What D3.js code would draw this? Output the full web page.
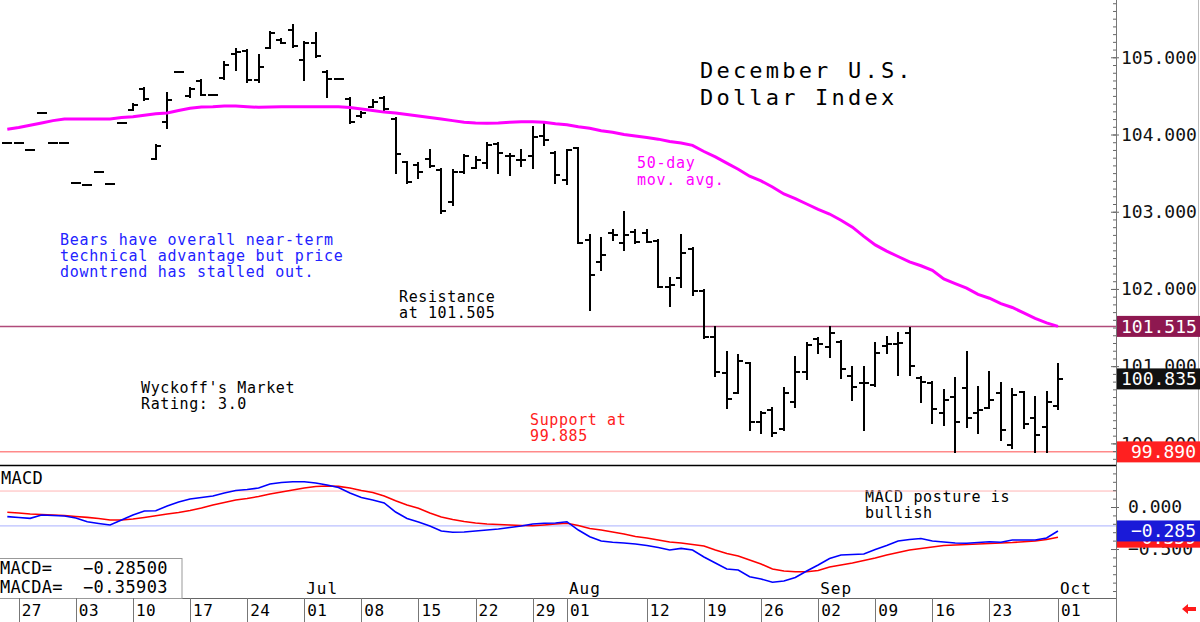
<!DOCTYPE html>
<html>
<head>
<meta charset="utf-8">
<style>
  body { margin: 0; background: #fff; }
  svg text { font-family: "DejaVu Sans Mono", monospace; }
</style>
<script src="https://cdn.jsdelivr.net/npm/d3@7"></script>
</head>
<body>
<div id="container"></div>
<script>
// trading days shown, May 24 .. Oct 1 2024
const dates = d3.timeDay.range(new Date(2024, 4, 24), new Date(2024, 9, 2))
  .filter(d => d.getDay() % 6 !== 0)
  .map(d3.timeFormat('%Y-%m-%d'));

// December U.S. Dollar Index futures, daily bars
const opens = [103.894,103.894,103.799,104.282,103.894,103.894,103.372,103.346,103.514,103.359,104.149,
  104.317,104.589,103.683,104.162,104.810,104.499,104.697,104.512,104.732,105.043,105.082,104.706,105.120,
  105.224,105.354,104.965,105.185,104.813,104.715,104.460,104.240,104.360,104.473,104.207,103.644,103.605,
  103.683,103.540,103.130,103.518,103.566,103.631,103.877,103.721,103.670,103.721,103.981,103.764,103.411,
  103.821,102.633,102.348,102.724,102.595,102.741,102.724,102.624,102.029,102.137,102.513,101.977,101.373,
  100.907,100.655,101.036,100.280,100.431,100.181,100.539,100.927,101.347,101.251,101.316,100.872,100.781,
  100.755,101.260,101.286,101.425,100.842,100.785,100.390,100.600,100.712,100.389,100.453,100.655,99.978,
  100.668,100.324,100.215,100.483];
const highs = [103.894,103.894,103.799,104.282,103.894,103.894,103.372,103.346,103.514,103.359,104.149,
  104.395,104.596,103.864,104.541,104.810,104.596,104.706,104.512,104.943,105.108,105.095,105.030,105.328,
  105.231,105.418,105.202,105.311,104.823,104.715,104.469,104.291,104.447,104.490,104.214,103.648,103.631,
  103.799,103.549,103.540,103.734,103.712,103.886,103.886,103.747,103.799,104.101,104.153,103.777,103.799,
  103.829,102.698,102.655,102.763,103.000,102.763,102.763,102.633,102.137,102.698,102.526,101.986,101.503,
  101.187,101.144,101.044,100.409,100.453,100.712,101.122,101.295,101.360,101.510,101.329,100.992,100.992,
  101.295,101.381,101.433,101.490,100.855,100.798,100.690,100.842,101.187,100.733,100.927,100.777,100.699,
  100.668,100.604,100.668,101.023];
const lows = [103.894,103.894,103.799,104.282,103.894,103.894,103.372,103.346,103.514,103.359,104.149,
  104.317,104.453,103.683,104.080,104.810,104.492,104.512,104.512,104.719,104.835,104.680,104.680,105.120,
  105.185,105.137,104.706,105.008,104.490,104.715,104.153,104.227,104.356,104.317,103.501,103.376,103.437,
  103.583,102.987,103.087,103.505,103.562,103.562,103.497,103.475,103.592,103.562,103.864,103.376,103.359,
  102.591,101.727,102.245,102.633,102.504,102.591,102.611,102.029,101.778,102.029,101.921,101.360,100.872,
  100.453,100.648,100.172,100.130,100.095,100.172,100.474,100.829,101.166,101.122,100.842,100.561,100.172,
  100.742,101.174,100.885,100.885,100.539,100.259,100.237,99.891,100.215,100.130,100.453,100.043,99.935,
  100.194,99.885,99.891,100.440];
const closes = [103.894,103.894,103.799,104.282,103.894,103.894,103.372,103.346,103.514,103.359,104.149,
  104.382,104.460,103.851,104.447,104.810,104.589,104.512,104.512,104.900,105.069,104.706,104.878,105.321,
  105.189,105.146,105.189,105.017,104.719,104.715,104.166,104.278,104.421,104.330,103.747,103.389,103.518,
  103.596,103.009,103.518,103.725,103.670,103.864,103.756,103.721,103.670,103.972,103.929,103.475,103.799,
  102.595,102.180,102.439,102.698,102.698,102.611,102.611,102.029,102.051,102.469,101.977,101.373,100.927,
  100.570,101.070,100.280,100.396,100.130,100.655,100.927,101.273,101.286,101.425,100.959,100.733,100.777,
  101.166,101.286,101.303,101.001,100.798,100.440,100.561,100.280,100.324,100.431,100.561,100.172,100.626,
  100.246,100.108,100.539,100.835];

// 50-day moving average
const ma50 = [104.067,104.09,104.12,104.15,104.18,104.20,104.20,104.20,104.20,104.20,104.22,
  104.23,104.25,104.27,104.28,104.31,104.34,104.355,104.36,104.37,104.37,104.36,104.352,104.355,104.36,
  104.36,104.36,104.36,104.36,104.36,104.35,104.33,104.31,104.29,104.28,104.26,104.24,104.22,104.20,
  104.18,104.16,104.15,104.145,104.15,104.16,104.165,104.166,104.16,104.14,104.125,104.10,104.08,104.05,
  104.03,104.00,103.98,103.96,103.94,103.91,103.89,103.86,103.78,103.71,103.63,103.55,103.46,103.40,
  103.32,103.23,103.17,103.10,103.03,102.97,102.89,102.80,102.68,102.57,102.49,102.42,102.35,102.30,
  102.24,102.13,102.07,102.01,101.93,101.88,101.81,101.76,101.69,101.62,101.56,101.515];

// MACD and its average
const macd = [-0.115,-0.125,-0.135,-0.095,-0.101,-0.107,-0.131,-0.175,-0.196,-0.214,-0.155,
  -0.095,-0.048,-0.044,0.012,0.060,0.095,0.113,0.131,0.167,0.196,0.208,0.226,0.274,0.292,0.301,0.301,
  0.286,0.262,0.232,0.167,0.113,0.083,0.048,-0.060,-0.137,-0.179,-0.226,-0.286,-0.301,-0.298,-0.286,
  -0.274,-0.262,-0.244,-0.226,-0.202,-0.194,-0.190,-0.175,-0.274,-0.354,-0.405,-0.420,-0.429,-0.440,
  -0.458,-0.482,-0.512,-0.492,-0.512,-0.595,-0.667,-0.738,-0.750,-0.830,-0.857,-0.896,-0.881,-0.839,
  -0.762,-0.690,-0.613,-0.571,-0.565,-0.560,-0.506,-0.458,-0.405,-0.387,-0.375,-0.405,-0.417,-0.429,
  -0.432,-0.423,-0.413,-0.420,-0.393,-0.393,-0.393,-0.369,-0.285];
const macdAvg = [-0.063,-0.071,-0.083,-0.089,-0.095,-0.101,-0.113,-0.123,-0.137,-0.155,-0.155,
  -0.143,-0.125,-0.104,-0.083,-0.065,-0.042,-0.012,0.024,0.054,0.083,0.101,0.125,0.155,0.179,0.202,
  0.226,0.244,0.250,0.246,0.226,0.196,0.173,0.131,0.075,0.024,-0.015,-0.071,-0.119,-0.149,-0.173,
  -0.190,-0.202,-0.208,-0.214,-0.220,-0.223,-0.214,-0.202,-0.194,-0.220,-0.256,-0.274,-0.298,-0.321,
  -0.351,-0.369,-0.393,-0.417,-0.429,-0.446,-0.464,-0.512,-0.554,-0.583,-0.631,-0.679,-0.738,-0.762,
  -0.770,-0.770,-0.756,-0.714,-0.690,-0.667,-0.637,-0.607,-0.571,-0.542,-0.512,-0.494,-0.476,-0.458,
  -0.452,-0.446,-0.440,-0.435,-0.429,-0.423,-0.413,-0.405,-0.387,-0.359];

const resistance = 101.515;
const support = 99.890;
const priceTicks = [100, 101, 102, 103, 104, 105];
const macdTicks = [0, -0.5];
const macdBands = [0.19, -0.225];
const dayTicks = ['2024-05-27','2024-06-03','2024-06-10','2024-06-17','2024-06-24','2024-07-01',
  '2024-07-08','2024-07-15','2024-07-22','2024-07-29','2024-08-01','2024-08-12','2024-08-19',
  '2024-08-26','2024-09-02','2024-09-09','2024-09-16','2024-09-23','2024-10-01'];
const monthTicks = ['2024-07-01','2024-08-01','2024-09-02','2024-10-01'];

const width = 1200, height = 622;
const axisX = 1116;
const priceBottom = 465, macdBottom = 598;

const x = d3.scaleLinear().domain([-0.64, 97.08]).range([0, axisX]);
const y = d3.scaleLinear().domain([99.72, 105.742]).range([priceBottom, 0]);
const ym = d3.scaleLinear().domain([-1.083, 0.5]).range([macdBottom, priceBottom]);
const xd = s => x(dates.indexOf(s));

const bars = dates.map((d, i) => ({ d, i, o: opens[i], h: highs[i], l: lows[i], c: closes[i] }));

const svg = d3.create('svg')
  .attr('width', width)
  .attr('height', height)
  .style('display', 'block');

svg.append('rect').attr('width', width).attr('height', height).attr('fill', '#fff');

// horizontal reference lines
svg.append('line')
  .attr('x1', 0).attr('x2', axisX)
  .attr('y1', y(resistance)).attr('y2', y(resistance))
  .attr('stroke', '#b04a7a').attr('stroke-width', 1.5);
svg.append('line')
  .attr('x1', 0).attr('x2', axisX)
  .attr('y1', y(support)).attr('y2', y(support))
  .attr('stroke', '#ff8a8a').attr('stroke-width', 1.5);

// price bars
const gb = svg.append('g').attr('stroke', '#000').attr('stroke-width', 2)
  .attr('shape-rendering', 'crispEdges');
const bg = gb.selectAll('g').data(bars).join('g');
bg.filter(b => b.h !== b.l).append('line')
  .attr('x1', b => x(b.i)).attr('x2', b => x(b.i))
  .attr('y1', b => y(b.h) - 1).attr('y2', b => y(b.l) + 1);
bg.append('line')
  .attr('x1', b => x(b.i) - 5).attr('x2', b => x(b.i))
  .attr('y1', b => y(b.o)).attr('y2', b => y(b.o));
bg.append('line')
  .attr('x1', b => x(b.i)).attr('x2', b => x(b.i) + 5)
  .attr('y1', b => y(b.c)).attr('y2', b => y(b.c));

// moving average
svg.append('path')
  .datum(ma50)
  .attr('fill', 'none')
  .attr('stroke', '#ff00ff')
  .attr('stroke-width', 3)
  .attr('d', d3.line().x((v, i) => x(i)).y(v => y(v)));

// chart texts
function label(lines, px, py, color, size, spacing, lh) {
  const t = svg.append('text')
    .attr('fill', color)
    .attr('font-size', size)
    .attr('letter-spacing', spacing);
  lines.forEach((s, k) => t.append('tspan').attr('x', px).attr('y', py + k * lh).text(s));
}
label(['December U.S.', 'Dollar Index'], 700, 78, '#000', 22, 3.2, 27);
label(['50-day', 'mov. avg.'], 637, 168, '#ff00ff', 15, 0.7, 17);
label(['Bears have overall near-term', 'technical advantage but price', 'downtrend has stalled out.'],
  60, 245, '#2222ff', 15, 0.75, 16);
label(['Resistance', 'at 101.505'], 399, 302, '#000', 15, 0.6, 16);
label(["Wyckoff's Market", 'Rating: 3.0'], 141, 393, '#000', 15, 0.6, 16);
label(['Support at', '99.885'], 530, 425, '#ff2020', 15, 0.6, 16);
label(['MACD posture is', 'bullish'], 865, 502, '#000', 15, 0.65, 16);
label(['MACD'], 1, 484, '#000', 17, 0.3, 0);

// panel borders
svg.append('line').attr('x1', 0).attr('x2', axisX).attr('y1', priceBottom + 0.5).attr('y2', priceBottom + 0.5)
  .attr('stroke', '#000').attr('stroke-width', 1.5);
svg.append('line').attr('x1', 0).attr('x2', axisX).attr('y1', macdBottom + 0.5).attr('y2', macdBottom + 0.5)
  .attr('stroke', '#666');
svg.append('line').attr('x1', 1198.5).attr('x2', 1198.5).attr('y1', 0).attr('y2', 462)
  .attr('stroke', '#bbb');

// macd bands and lines
svg.append('g').selectAll('line').data(macdBands).join('line')
  .attr('x1', 0).attr('x2', axisX)
  .attr('y1', v => ym(v)).attr('y2', v => ym(v))
  .attr('stroke', (v, i) => i === 0 ? '#ffb4b4' : '#aab0ff').attr('stroke-width', 1);
const mline = d3.line().x((v, i) => x(i)).y(v => ym(v));
svg.append('path').datum(macdAvg).attr('fill', 'none').attr('stroke', '#ff0000')
  .attr('stroke-width', 1.6).attr('d', mline);
svg.append('path').datum(macd).attr('fill', 'none').attr('stroke', '#0000ff')
  .attr('stroke-width', 1.6).attr('d', mline);

// macd readout box
svg.append('rect').attr('x', -1).attr('y', 558.5).attr('width', 183).attr('height', 40)
  .attr('fill', '#fff').attr('stroke', '#999');
[['MACD=', macd[macd.length - 1]], ['MACDA=', -0.35903]].forEach(([k, v], j) => {
  svg.append('text').attr('x', 0).attr('y', 574 + j * 19).attr('font-size', 17)
    .attr('letter-spacing', 0.2).text(k);
  svg.append('text').attr('x', 168).attr('y', 574 + j * 19).attr('font-size', 17)
    .attr('letter-spacing', 0.4).attr('text-anchor', 'end').text(d3.format('.5f')(v));
});

// date axis
const gd = svg.append('g');
gd.selectAll('line').data(dayTicks).join('line')
  .attr('x1', d => Math.round(xd(d)) + 0.5).attr('x2', d => Math.round(xd(d)) + 0.5)
  .attr('y1', macdBottom).attr('y2', height)
  .attr('stroke', '#777');
gd.selectAll('text.day').data(dayTicks).join('text')
  .attr('class', 'day')
  .attr('x', d => xd(d) + 3).attr('y', 616)
  .attr('font-size', 16).attr('letter-spacing', 0.5)
  .text(d => d.slice(8));
gd.selectAll('text.mon').data(monthTicks).join('text')
  .attr('class', 'mon')
  .attr('x', d => xd(d) + 2).attr('y', 594)
  .attr('font-size', 16).attr('letter-spacing', 1)
  .text(d => d3.timeFormat('%b')(d3.timeParse('%Y-%m-%d')(d)));

// right axes
const fmt = d3.format('.3f');
const pa = svg.append('g').attr('transform', `translate(${axisX},0)`)
  .call(d3.axisLeft(y).ticks(60).tickSize(3).tickFormat(''));
pa.select('.domain').remove();
const pb = svg.append('g').attr('transform', `translate(${axisX},0)`)
  .call(d3.axisRight(y).tickValues(priceTicks).tickSize(3).tickPadding(2).tickFormat(fmt));
pb.select('.domain').remove();
pb.selectAll('line').attr('x1', -5);
const ma = svg.append('g').attr('transform', `translate(${axisX},0)`)
  .call(d3.axisLeft(ym).tickValues(d3.range(-10, 5).map(k => k / 10)).tickSize(3).tickFormat(''));
ma.select('.domain').remove();
const mb = svg.append('g').attr('transform', `translate(${axisX},0)`)
  .call(d3.axisRight(ym).tickValues(macdTicks).tickSize(3).tickPadding(2).tickFormat(fmt));
mb.select('.domain').remove();
mb.selectAll('line').attr('x1', -5);
svg.selectAll('.tick line').attr('stroke', '#666');
svg.selectAll('.tick text').attr('font-family', '"DejaVu Sans Mono", monospace')
  .attr('font-size', 18).attr('fill', '#111').attr('x', 5);
mb.selectAll('.tick text').attr('x', 12);
svg.append('line').attr('x1', axisX + 0.5).attr('x2', axisX + 0.5).attr('y1', 0).attr('y2', height)
  .attr('stroke', '#777');

// value flags on the right axis
const flags = [
  { v: y(resistance), t: fmt(resistance), c: '#8e1850' },
  { v: y(closes[closes.length - 1]), t: fmt(closes[closes.length - 1]), c: '#111' },
  { v: y(support), t: fmt(support), c: '#ff2020' },
  { v: ym(macdAvg[macdAvg.length - 1]), t: fmt(macdAvg[macdAvg.length - 1]), c: '#ff1a1a' },
  { v: ym(macd[macd.length - 1]), t: fmt(macd[macd.length - 1]), c: '#1a1ad8' }
];
const gf = svg.append('g').selectAll('g').data(flags).join('g')
  .attr('transform', f => `translate(${axisX + 1},${f.v})`);
gf.append('rect').attr('x', 0).attr('y', -10.5).attr('width', 83).attr('height', 21).attr('fill', f => f.c);
gf.append('text').attr('x', f => f.t.startsWith('-') ? 2 : (f.t.length < 7 ? 14 : 4)).attr('y', 6.5)
  .attr('font-size', 18).attr('fill', '#fff').text(f => f.t);

// little red arrow, bottom right
svg.append('path')
  .attr('transform', 'translate(1189,609)')
  .attr('d', 'M-7,0 L-1,-5 L-1,-2 L7,-2 L7,2 L-1,2 L-1,5 Z')
  .attr('fill', '#ff1a1a');

container.append(svg.node());
</script>
</body>
</html>
